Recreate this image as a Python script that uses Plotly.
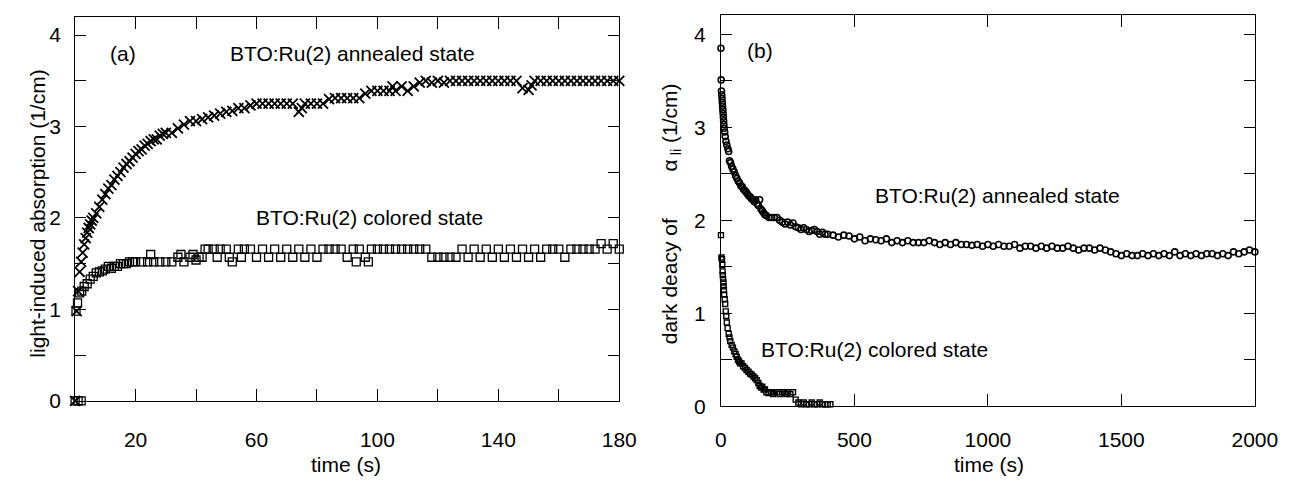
import plotly.graph_objects as go

W, H = 1306, 481

# ---------------- panel (a): light-induced absorption ----------------
a_ann_t = [0, 0.5, 1, 1.5, 2, 2.5, 3, 3.5, 4, 4.5, 5, 5.5, 6, 7, 8, 9, 10, 11, 12, 13, 14, 15,
           16, 17, 18, 19, 20, 21, 22, 23, 24, 25, 26, 27, 28, 29, 30, 32, 34, 36, 38, 40,
           42, 44, 46, 48, 50, 52, 54, 56, 58, 60, 62, 64, 66, 68, 70, 72, 74, 75, 76, 78,
           80, 82, 84, 86, 88, 90, 92, 94, 96, 98, 100, 102, 104, 105, 106, 108, 110, 112,
           114, 116, 118, 120, 122, 124, 126, 128, 130, 132, 134, 136, 138, 140, 142, 144,
           146, 148, 150, 151, 152, 154, 156, 158, 160, 162, 164, 166, 168, 170, 172, 174,
           176, 178, 180]
a_ann_v = [0.0, 0.98, 1.2, 1.41, 1.52, 1.62, 1.71, 1.78, 1.84, 1.89, 1.93, 1.97, 2.0, 2.05,
           2.12, 2.2, 2.26, 2.32, 2.36, 2.42, 2.46, 2.5, 2.55, 2.59, 2.62, 2.66, 2.7, 2.73,
           2.75, 2.79, 2.81, 2.84, 2.86, 2.86, 2.9, 2.92, 2.93, 2.93, 2.98, 3.02, 3.06, 3.06,
           3.08, 3.1, 3.12, 3.14, 3.16, 3.17, 3.2, 3.2, 3.23, 3.25, 3.25, 3.25, 3.25, 3.25,
           3.25, 3.25, 3.16, 3.2, 3.25, 3.25, 3.25, 3.25, 3.3, 3.31, 3.31, 3.31, 3.31, 3.31,
           3.36, 3.39, 3.39, 3.39, 3.39, 3.44, 3.39, 3.44, 3.39, 3.44, 3.48, 3.5, 3.48, 3.5,
           3.48, 3.5, 3.5, 3.5, 3.5, 3.5, 3.5, 3.5, 3.5, 3.5, 3.5, 3.5, 3.5, 3.42, 3.4, 3.45,
           3.5, 3.5, 3.5, 3.5, 3.5, 3.5, 3.5, 3.5, 3.5, 3.5, 3.5, 3.5, 3.5, 3.5, 3.5]

a_col_t = [0, 1, 2, 0.3, 0.8, 1.5, 2.2, 3, 4, 5, 6, 7, 8, 9, 10, 11, 12, 13, 14, 15, 16, 17,
           18, 19, 20, 22, 24, 25, 26, 28, 30, 32, 34, 35, 36, 38, 39, 40, 41, 42, 43, 44,
           46, 47, 48, 50, 51, 52, 54, 55, 56, 58, 60, 62, 64, 66, 68, 70, 72, 74, 76, 78,
           80, 82, 84, 86, 88, 90, 92, 93, 94, 96, 97, 98, 100, 102, 104, 106, 108, 110,
           112, 114, 116, 118, 120, 122, 124, 126, 128, 130, 132, 134, 136, 138, 140, 142,
           144, 146, 148, 150, 152, 154, 156, 158, 160, 162, 164, 166, 168, 170, 172, 174,
           176, 178, 180]
a_col_v = [0.0, 0.0, 0.0, 0.98, 1.07, 1.18, 1.2, 1.25, 1.28, 1.33, 1.36, 1.4, 1.41, 1.42,
           1.44, 1.47, 1.45, 1.47, 1.47, 1.5, 1.5, 1.5, 1.52, 1.52, 1.52, 1.52, 1.52, 1.6,
           1.52, 1.52, 1.52, 1.52, 1.57, 1.6, 1.52, 1.57, 1.6, 1.54, 1.57, 1.57, 1.66, 1.66,
           1.66, 1.57, 1.66, 1.66, 1.57, 1.52, 1.66, 1.57, 1.66, 1.66, 1.57, 1.66, 1.57,
           1.66, 1.57, 1.66, 1.57, 1.66, 1.57, 1.66, 1.57, 1.66, 1.66, 1.66, 1.66, 1.57,
           1.66, 1.52, 1.66, 1.57, 1.52, 1.66, 1.66, 1.66, 1.66, 1.66, 1.66, 1.66, 1.66,
           1.66, 1.66, 1.57, 1.57, 1.57, 1.57, 1.57, 1.66, 1.57, 1.66, 1.57, 1.66, 1.57,
           1.66, 1.57, 1.66, 1.57, 1.66, 1.57, 1.66, 1.57, 1.66, 1.66, 1.66, 1.57, 1.66,
           1.66, 1.66, 1.66, 1.66, 1.72, 1.66, 1.72, 1.66]

# ---------------- panel (b): dark decay ----------------
b_ann_t = [0, 1, 2, 3, 4, 5, 6, 7, 8, 9, 10, 11, 12, 14, 16, 19, 22, 26, 29, 32, 36, 40, 45,
           50, 55, 60, 65, 70, 75, 80, 85, 90, 95, 100, 105, 110, 115, 120, 125, 130, 135,
           140, 145, 150, 155, 160, 165, 170, 180, 190, 200, 210, 220, 230, 240, 250, 260,
           270, 280, 290, 300, 310, 320, 330, 340, 350, 360, 370, 380, 390, 400, 420, 440,
           460, 480, 500, 520, 540, 560, 580, 600, 620, 640, 660, 680, 700, 720, 740, 760,
           780, 800, 820, 840, 860, 880, 900, 920, 940, 960, 980, 1000, 1020, 1040, 1060,
           1080, 1100, 1120, 1140, 1160, 1180, 1200, 1220, 1240, 1260, 1280, 1300, 1320,
           1340, 1360, 1380, 1400, 1420, 1440, 1460, 1480, 1500, 1520, 1540, 1560, 1580,
           1600, 1620, 1640, 1660, 1680, 1700, 1720, 1740, 1760, 1780, 1800, 1820, 1840,
           1860, 1880, 1900, 1920, 1940, 1960, 1980, 2000]
b_ann_v = [3.85, 3.51, 3.39, 3.35, 3.31, 3.27, 3.23, 3.19, 3.15, 3.11, 3.07, 3.03, 2.99,
           2.95, 2.9, 2.85, 2.81, 2.77, 2.74, 2.64, 2.62, 2.58, 2.55, 2.52, 2.48, 2.45,
           2.42, 2.4, 2.37, 2.36, 2.33, 2.32, 2.3, 2.28, 2.26, 2.25, 2.23, 2.22, 2.2, 2.22,
           2.18, 2.16, 2.22, 2.12, 2.1, 2.08, 2.06, 2.05, 2.03, 2.03, 2.03, 2.03, 2.0, 1.98,
           1.96, 1.98, 1.95, 1.97, 1.93, 1.92, 1.9, 1.92, 1.9, 1.88, 1.89, 1.9, 1.88, 1.85,
           1.87, 1.85, 1.85, 1.84, 1.82, 1.84, 1.83, 1.8, 1.82, 1.78, 1.8, 1.79, 1.78, 1.8,
           1.76, 1.78, 1.76, 1.78, 1.76, 1.76, 1.76, 1.78, 1.76, 1.74, 1.76, 1.74, 1.76,
           1.74, 1.74, 1.73, 1.74, 1.72, 1.74, 1.72, 1.74, 1.72, 1.72, 1.74, 1.7, 1.72,
           1.72, 1.7, 1.72, 1.7, 1.72, 1.7, 1.7, 1.72, 1.7, 1.68, 1.7, 1.7, 1.68, 1.7,
           1.68, 1.66, 1.64, 1.62, 1.64, 1.62, 1.62, 1.64, 1.62, 1.64, 1.62, 1.64, 1.62,
           1.66, 1.62, 1.64, 1.62, 1.64, 1.62, 1.64, 1.64, 1.62, 1.64, 1.62, 1.66, 1.64,
           1.66, 1.68, 1.66]

b_col_t = [0, 2, 4, 5, 6, 7, 8, 9, 10, 11, 12, 14, 16, 18, 20, 22, 25, 29, 32, 35, 40, 45,
           50, 55, 59, 64, 68, 72, 77, 83, 90, 96, 103, 109, 115, 122, 128, 134, 140, 145,
           150, 155, 160, 165, 170, 178, 187, 195, 200, 210, 220, 230, 238, 245, 250, 260,
           270, 280, 290, 300, 310, 320, 330, 340, 350, 360, 370, 380, 390, 400, 410]
b_col_v = [1.84, 1.6, 1.58, 1.52, 1.45, 1.41, 1.37, 1.33, 1.29, 1.25, 1.2, 1.15, 1.1,
           1.02, 0.97, 0.9, 0.84, 0.78, 0.74, 0.7, 0.66, 0.63, 0.59, 0.56, 0.53, 0.5, 0.48,
           0.46, 0.46, 0.43, 0.41, 0.39, 0.37, 0.35, 0.34, 0.32, 0.3, 0.28, 0.25, 0.22,
           0.2, 0.21, 0.18, 0.18, 0.15, 0.14, 0.15, 0.13, 0.15, 0.15, 0.13, 0.15, 0.15,
           0.13, 0.15, 0.13, 0.15, 0.07, 0.04, 0.02, 0.04, 0.02, 0.02, 0.04, 0.02, 0.02,
           0.04, 0.02, 0.02, 0.02, 0.02]

# axis tick definitions
a_xtick_vals = [20, 60, 100, 140, 180]
b_xtick_vals = [0, 500, 1000, 1500, 2000]
ytick_vals = [0, 1, 2, 3, 4]

FONT = "Liberation Sans, Arial, sans-serif"
FS = 21

fig = go.Figure()
fig.add_trace(go.Scatter(x=a_ann_t, y=a_ann_v, mode="markers", xaxis="x", yaxis="y",
                         marker=dict(symbol="x-thin-open", size=10, color="black",
                                     line=dict(width=1.8, color="black")),
                         cliponaxis=False, showlegend=False))
fig.add_trace(go.Scatter(x=a_col_t, y=a_col_v, mode="markers", xaxis="x", yaxis="y",
                         marker=dict(symbol="square-open", size=8, color="black",
                                     line=dict(width=1.3, color="black")),
                         cliponaxis=False, showlegend=False))
fig.add_trace(go.Scatter(x=b_ann_t, y=b_ann_v, mode="markers", xaxis="x2", yaxis="y2",
                         marker=dict(symbol="circle-open", size=6, color="black",
                                     line=dict(width=1.6, color="black")),
                         cliponaxis=False, showlegend=False))
fig.add_trace(go.Scatter(x=b_col_t, y=b_col_v, mode="markers", xaxis="x2", yaxis="y2",
                         marker=dict(symbol="square-open", size=5, color="black",
                                     line=dict(width=1.4, color="black")),
                         cliponaxis=False, showlegend=False))

axis_common = dict(showline=True, linecolor="black", linewidth=1, mirror="ticks",
                   ticks="inside", tickcolor="black", tickwidth=1, showgrid=False,
                   zeroline=False, tickfont=dict(family=FONT, size=FS, color="black"))

def px_x(p):
    return p / W

def px_y(p):
    return 1 - p / H

fig.update_layout(
    width=W, height=H, margin=dict(l=0, r=0, t=0, b=0),
    paper_bgcolor="white", plot_bgcolor="white",
    xaxis=dict(domain=[px_x(62.5), px_x(619)], range=[0, 180], anchor="y",
               tickmode="array", tickvals=a_xtick_vals,
               minor=dict(tick0=0, dtick=20, ticks="inside", ticklen=12,
                          tickcolor="black", tickwidth=1, showgrid=False),
               ticklen=12, ticklabelstandoff=20, **axis_common),
    yaxis=dict(domain=[px_y(402), px_y(9)], range=[0, 4.2], anchor="x",
               tickmode="array", tickvals=ytick_vals,
               minor=dict(tick0=0, dtick=0.5, ticks="inside", ticklen=11,
                          tickcolor="black", tickwidth=1, showgrid=False),
               ticklen=11, ticklabelstandoff=9, **axis_common),
    xaxis2=dict(domain=[px_x(723), px_x(1269)], range=[0, 2000], anchor="y2",
                tickmode="array", tickvals=b_xtick_vals,
                ticklen=12, ticklabelstandoff=15, **axis_common),
    yaxis2=dict(domain=[px_y(407.5), px_y(7)], range=[0, 4.21], anchor="x2",
                tickmode="array", tickvals=ytick_vals,
                minor=dict(tick0=0, dtick=0.5, ticks="inside", ticklen=11,
                           tickcolor="black", tickwidth=1, showgrid=False),
                ticklen=11, ticklabelstandoff=10, **axis_common),
)

def ann(text, x, y, xanchor="center", angle=0):
    fig.add_annotation(text=text, x=px_x(x), y=px_y(y), xref="paper", yref="paper",
                       xanchor=xanchor, yanchor="middle", showarrow=False, textangle=angle,
                       font=dict(family=FONT, size=FS, color="black"))

ann("(a)", 111.5, 47)
ann("BTO:Ru(2) annealed state", 346, 47)
ann("BTO:Ru(2) colored state", 245, 214, xanchor="left")
ann("(b)", 762.5, 43)
ann("BTO:Ru(2) annealed state", 878, 192, xanchor="left")
ann("BTO:Ru(2) colored state", 762, 349, xanchor="left")
ann("time (s)", 340, 467)
ann("time (s)", 997, 467)
ann("light-induced absorption (1/cm)", 24, 210, angle=-90)
ann("dark deacy of        α<sub> li</sub> (1/cm)", 672, 211, angle=-90)

fig.write_html("out.html")
